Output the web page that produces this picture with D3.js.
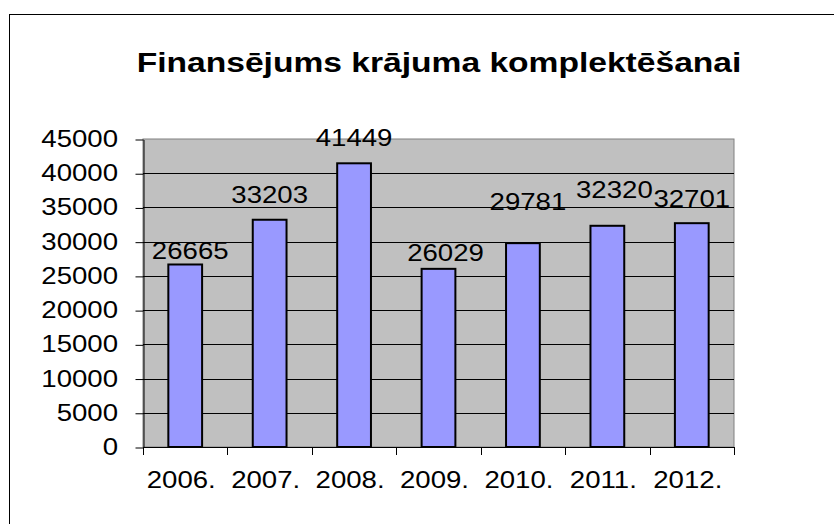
<!DOCTYPE html>
<html>
<head>
<meta charset="utf-8">
<script src="https://cdn.jsdelivr.net/npm/d3@7"></script>
<style>
  body { margin: 0; background: #fff; }
  text { font-family: "Liberation Sans", Arial, sans-serif; fill: #000; }
</style>
</head>
<body>
<div id="chart"></div>
<script>
// Chart data
const years = ["2006.", "2007.", "2008.", "2009.", "2010.", "2011.", "2012."];
const amounts = [26665, 33203, 41449, 26029, 29781, 32320, 32701];
const yTicks = [0, 5000, 10000, 15000, 20000, 25000, 30000, 35000, 40000, 45000];
const title = "Finansējums krājuma komplektēšanai";

// label nudges (Excel moved some labels around)
const labelDx = [5, 0, 0, 7, 5, 7, 0];
const labelDy = [5, 17, 17, 8, 33, 28, 16];

const width = 834, height = 524;
const plot = {left: 143, right: 734, top: 139, bottom: 447};
const SX = 1.2; // text in the picture is stretched horizontally

let svg = d3.select("#chart")
    .append("svg")
    .attr("width", width)
    .attr("height", height);

// outer chart frame (runs off the right/bottom edge)
svg.append("rect")
    .attr("x", 9.5).attr("y", 14.5)
    .attr("width", 900).attr("height", 600)
    .attr("fill", "#fff")
    .attr("stroke", "#000");

// title
svg.append("text")
    .attr("transform", `translate(439, 72) scale(${SX},1)`)
    .style("text-anchor", "middle")
    .style("font-size", "28px")
    .style("font-weight", "bold")
    .text(title);

let x = d3.scaleBand()
    .domain(years)
    .range([plot.left, plot.right])
    .paddingInner(0.6)
    .paddingOuter(0.3);

let y = d3.scaleLinear()
    .domain([0, 45000])
    .range([plot.bottom, plot.top]);

// plot area background
svg.append("rect")
    .attr("x", plot.left).attr("y", plot.top)
    .attr("width", plot.right - plot.left)
    .attr("height", plot.bottom - plot.top)
    .attr("fill", "#C0C0C0")
    .attr("stroke", "#808080");

// gridlines
svg.append("g")
    .selectAll("line")
    .data(yTicks.filter(d => d > 0 && d < 45000))
    .enter()
    .append("line")
    .attr("x1", plot.left).attr("x2", plot.right)
    .attr("y1", d => Math.round(y(d)) + 0.5)
    .attr("y2", d => Math.round(y(d)) + 0.5)
    .attr("stroke", "#000")
    .attr("stroke-width", 1);

// bars
svg.append("g")
    .selectAll("rect")
    .data(amounts)
    .enter()
    .append("rect")
    .attr("x", (d, i) => x(years[i]))
    .attr("y", d => y(d))
    .attr("width", x.bandwidth())
    .attr("height", d => y(0) - y(d))
    .attr("fill", "#9999FF")
    .attr("stroke", "#000")
    .attr("stroke-width", 2);

// y axis (ticks only, labels drawn separately)
svg.append("g")
    .attr("transform", `translate(${plot.left + 0.5}, 0.5)`)
    .call(d3.axisLeft(y).tickValues(yTicks).tickSize(8).tickSizeOuter(0).tickFormat(""))
    .call(g => g.select(".domain").attr("stroke", "#000"));

svg.append("g")
    .selectAll("text")
    .data(yTicks)
    .enter()
    .append("text")
    .attr("transform", d => `translate(118, ${y(d) + 8}) scale(${SX},1)`)
    .style("text-anchor", "end")
    .style("font-size", "23px")
    .text(d => d);

// x axis: ticks sit on the category boundaries
let xEdges = years.map((d, i) => plot.left + i * x.step()).concat([plot.right]);
svg.append("line")
    .attr("x1", plot.left).attr("x2", plot.right)
    .attr("y1", plot.bottom + 0.5).attr("y2", plot.bottom + 0.5)
    .attr("stroke", "#000");
svg.append("g")
    .selectAll("line")
    .data(xEdges)
    .enter()
    .append("line")
    .attr("x1", d => Math.round(d) + 0.5).attr("x2", d => Math.round(d) + 0.5)
    .attr("y1", plot.bottom).attr("y2", plot.bottom + 8)
    .attr("stroke", "#000");

svg.append("g")
    .selectAll("text")
    .data(years)
    .enter()
    .append("text")
    .attr("transform", d => `translate(${x(d) + x.bandwidth() / 2 - 4}, 488) scale(${SX},1)`)
    .style("text-anchor", "middle")
    .style("font-size", "23px")
    .text(d => d);

// value labels
svg.append("g")
    .selectAll("text")
    .data(amounts)
    .enter()
    .append("text")
    .attr("transform", (d, i) => `translate(${x(years[i]) + x.bandwidth() / 2 + labelDx[i]}, ${y(d) - labelDy[i]}) scale(${SX},1)`)
    .style("text-anchor", "middle")
    .style("font-size", "23px")
    .text(d => d);
</script>
</body>
</html>
